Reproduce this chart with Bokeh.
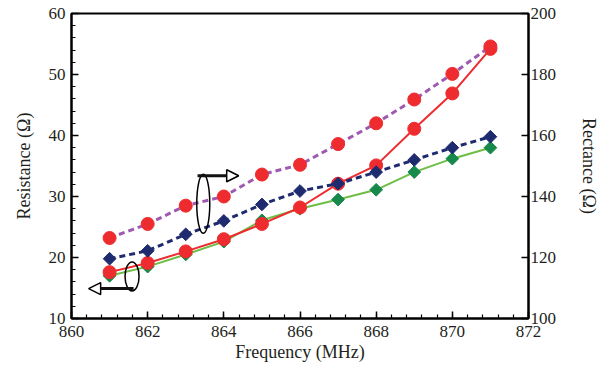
from bokeh.plotting import figure
from bokeh.models import Range1d, LinearAxis, SingleIntervalTicker, Arrow, NormalHead
from bokeh.embed import file_html
from bokeh.resources import INLINE

freq = [861, 862, 863, 864, 865, 866, 867, 868, 869, 870, 871]
res_red = [17.6, 19.1, 21.0, 23.0, 25.5, 28.2, 32.1, 35.1, 41.1, 46.9, 54.2]
res_green = [17.0, 18.5, 20.5, 22.6, 26.1, 28.0, 29.5, 31.1, 34.0, 36.2, 38.0]
rea_navy = [119.6, 122.2, 127.6, 132.0, 137.4, 141.8, 144.2, 148.0, 152.0, 156.0, 159.6]
rea_purple = [126.4, 131.0, 137.0, 140.0, 147.2, 150.4, 157.2, 164.0, 171.8, 180.2, 189.2]

FONT = "Liberation Serif"
TXT = "#231F20"

p = figure(width=608, height=373, x_range=Range1d(860, 872), y_range=Range1d(10, 60),
           output_backend="svg", toolbar_location=None,
           min_border_left=71, min_border_right=80, min_border_top=13, min_border_bottom=55)
p.extra_y_ranges = {"react": Range1d(100, 200)}
p.grid.visible = False
p.outline_line_color = "black"
p.outline_line_width = 2
p.background_fill_color = "white"
p.border_fill_color = "white"

def style(ax, minor=True):
    ax.axis_line_width = 2
    ax.axis_line_color = "black"
    ax.major_tick_in = 7
    ax.major_tick_out = 0
    ax.major_tick_line_width = 1.5
    ax.minor_tick_in = 4
    ax.minor_tick_out = 0
    ax.minor_tick_line_width = 1.2
    if not minor:
        ax.minor_tick_line_color = None
    ax.major_label_text_font = FONT
    ax.major_label_text_font_size = "17px"
    ax.major_label_text_color = TXT
    ax.axis_label_text_font = FONT
    ax.axis_label_text_font_size = "18px"
    ax.axis_label_text_font_style = "normal"
    ax.axis_label_text_color = TXT

xa = p.xaxis[0]
xa.ticker = SingleIntervalTicker(interval=2, num_minor_ticks=5)
xa.axis_label = "Frequency (MHz)"
style(xa)
xa.major_label_standoff = 7
xa.axis_label_standoff = 2

ya = p.yaxis[0]
ya.ticker = SingleIntervalTicker(interval=10, num_minor_ticks=5)
ya.axis_label = "Resistance (Ω)"
style(ya)
ya.major_label_standoff = 6
ya.axis_label_standoff = 12

ra = LinearAxis(y_range_name="react", ticker=SingleIntervalTicker(interval=20, num_minor_ticks=0),
                axis_label="Rectance (Ω)")
style(ra, minor=False)
ra.major_label_standoff = 2
ra.axis_label_standoff = 20
p.add_layout(ra, "right")

# green resistance
p.line(freq, res_green, line_color="#6DBE45", line_width=2)
p.scatter(freq, res_green, marker="square", angle=0.785398, size=9,
          fill_color="#17894A", line_color="#17894A")
# red resistance
p.line(freq, res_red, line_color="#EE2B2E", line_width=2)
p.scatter(freq, res_red, marker="circle", size=13, fill_color="#EE2B2E", line_color="#EE2B2E")
# navy reactance
p.line(freq, rea_navy, y_range_name="react", line_color="#1E2B6E", line_width=3, line_dash="6 4")
p.scatter(freq, rea_navy, y_range_name="react", marker="square", angle=0.785398, size=9,
          fill_color="#1E2B6E", line_color="#1E2B6E")
# purple reactance
p.line(freq, rea_purple, y_range_name="react", line_color="#9E59B0", line_width=3, line_dash="6 4")
p.scatter(freq, rea_purple, y_range_name="react", marker="circle", size=13,
          fill_color="#EE2B2E", line_color="#EE2B2E")

# annotations: ellipses + arrows
p.ellipse(x=[861.59, 863.46], y=[16.9, 28.8], width=[14, 13], height=[29, 59],
          width_units="screen", height_units="screen",
          fill_color=None, line_color="black", line_width=1.5)
p.add_layout(Arrow(end=NormalHead(size=12, fill_color="white", line_color="black", line_width=1.5),
                   x_start=861.63, y_start=14.9, x_end=860.45, y_end=14.9,
                   line_width=3, line_color="#111111"))
p.add_layout(Arrow(end=NormalHead(size=12, fill_color="white", line_color="black", line_width=1.5),
                   x_start=863.31, y_start=33.4, x_end=864.39, y_end=33.4,
                   line_width=3, line_color="#111111"))

open("out.html", "w").write(file_html(p, INLINE))
